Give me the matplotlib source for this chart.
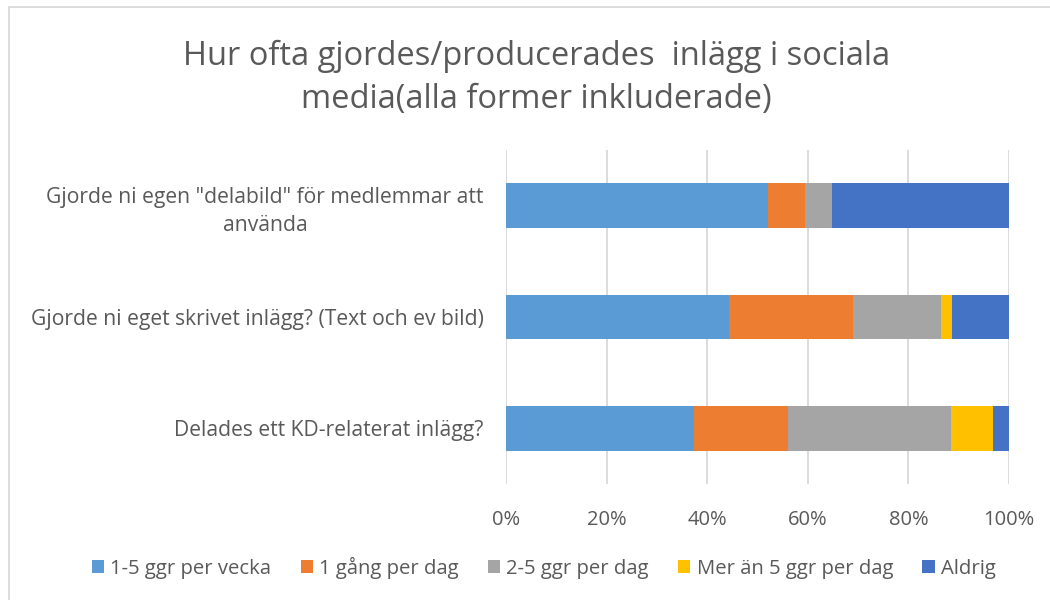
import numpy as np
import matplotlib.pyplot as plt
from matplotlib.patches import Rectangle

plt.rcParams['font.family'] = ['Open Sans', 'DejaVu Sans']

# Questions, top to bottom
questions = ['Gjorde ni egen "delabild" för medlemmar att\nanvända',
             'Gjorde ni eget skrivet inlägg? (Text och ev bild)',
             'Delades ett KD-relaterat inlägg?']
series = ['1-5 ggr per vecka', '1 gång per dag', '2-5 ggr per dag',
          'Mer än 5 ggr per dag', 'Aldrig']

# Share of answers (%) per question
vecka = [52.0, 44.3, 37.3]
en_dag = [7.5, 24.7, 18.8]
tva_fem_dag = [5.4, 17.5, 32.4]
mer_fem_dag = [0.0, 2.2, 8.3]
aldrig = [35.1, 11.3, 3.2]

colors = ['#5B9BD5', '#ED7D31', '#A5A5A5', '#FFC000', '#4472C4']
txt = '#595959'

fig = plt.figure(figsize=(10.5, 6), dpi=100)
ax = fig.add_axes([506/1050, 1-484/600, 503/1050, 334/600])

y = np.arange(len(questions))[::-1]
left = np.zeros(len(questions))
for vals, name, c in zip([vecka, en_dag, tva_fem_dag, mer_fem_dag, aldrig], series, colors):
    v = np.array(vals) / 100
    ax.barh(y, v, left=left, height=0.4, color=c, label=name, zorder=3)
    left += v

ax.set_xlim(0, 1)
ax.set_ylim(-0.5, 2.5)
ax.set_xticks(np.arange(0, 1.01, 0.2))
ax.set_xticklabels([f'{int(round(t*100))}%' for t in np.arange(0, 1.01, 0.2)])
ax.set_yticks(y)
ax.set_yticklabels(questions, multialignment='center', linespacing=1.45)
ax.tick_params(axis='both', length=0, colors=txt)
ax.tick_params(axis='x', pad=19, labelsize=14.5)
ax.tick_params(axis='y', pad=16, labelsize=15.2)
ax.grid(axis='x', color='#D9D9D9', linewidth=1.3, zorder=0)
for s in ax.spines.values():
    s.set_visible(False)

fig.text(0.511, 1-78/600, 'Hur ofta gjordes/producerades  inlägg i sociala\nmedia(alla former inkluderade)',
         ha='center', va='center', fontsize=23.5, color=txt, linespacing=1.4)

fig.legend(loc='center', bbox_to_anchor=(0.518, 1-568/600), ncol=5, frameon=False,
           fontsize=14.6, labelcolor=txt, handlelength=0.6, handleheight=0.6,
           handletextpad=0.3, columnspacing=1.45)

fig.patches.append(Rectangle((9/1050, -0.1), 1.2, 1-7/600+0.1, transform=fig.transFigure,
                             fill=False, edgecolor='#D9D9D9', linewidth=1.3))

fig.savefig('out.png', dpi=100)
